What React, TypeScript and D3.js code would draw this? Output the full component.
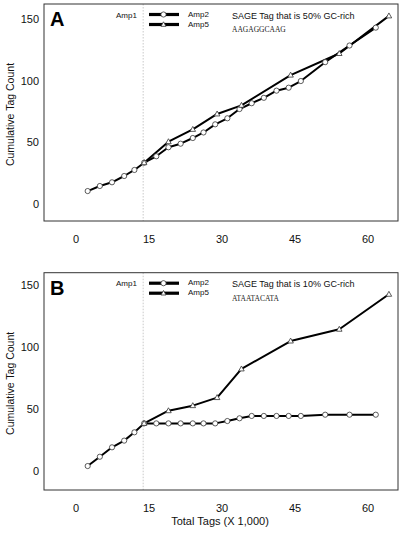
import React from "react";
import * as d3 from "d3";

const xTicks = [0, 15, 30, 45, 60];
const yTicks = [0, 50, 100, 150];
const amp1Boundary = 13.8;

const amp2X = [2.4, 4.9, 7.4, 9.9, 12.0, 14.0, 16.5, 19.0, 21.5, 24.0, 26.2, 28.6, 31.1, 33.6, 36.1, 38.6, 41.2, 43.7, 46.2, 51.2, 56.2, 61.6];
const amp2A = [10.5, 14.6, 17.6, 22.7, 27.6, 33.5, 38.7, 46, 48.9, 53.5, 58, 64.6, 69.5, 77, 81.7, 86.1, 91.9, 94.3, 99.7, 115, 128.5, 143];
const amp2B = [4, 11.5, 19.1, 24.5, 31.2, 38.4, 38.4, 38.4, 38.4, 38.4, 38.4, 38.4, 40.3, 42.5, 44.4, 44.4, 44.4, 44.4, 44.4, 45.4, 45.4, 45.4];

const amp5X = [14.0, 19.0, 24.0, 29.0, 34.0, 44.1, 54.1, 64.3];
const amp5A = [33.5, 50.5, 60.5, 73, 80, 104.5, 122, 152.5];
const amp5B = [38.4, 48.6, 52.7, 59.2, 82.3, 104.8, 114.3, 142.5];

const panels = [
  { letter: "A", title: "SAGE Tag that is 50% GC-rich", seq: "AAGAGGCAAG", amp2: amp2A, amp5: amp5A },
  { letter: "B", title: "SAGE Tag that is 10% GC-rich", seq: "ATAATACATA", amp2: amp2B, amp5: amp5B },
];

const FONT = "'Liberation Sans', Arial, Helvetica, sans-serif";

function triPath(cx: number, cy: number, s: number) {
  const h = s * 0.9;
  return `M${cx},${cy - h * 0.6}L${cx + s / 2},${cy + h * 0.4}L${cx - s / 2},${cy + h * 0.4}Z`;
}

function Panel({ p, geom }: { p: any; geom: any }) {
  const x = d3.scaleLinear().domain([0, 60]).range([76, 368]);
  const y = d3.scaleLinear().domain([0, 150]).range([geom.y0, geom.y150]);
  const line = d3.line<[number, number]>().x((d) => x(d[0])).y((d) => y(d[1]));
  const a2: [number, number][] = amp2X.map((v, i) => [v, p.amp2[i]]);
  const a5: [number, number][] = amp5X.map((v, i) => [v, p.amp5[i]]);
  const { top, bottom } = geom;
  const left = 44, right = 398;
  return (
    <g>
      <line x1={x(amp1Boundary)} x2={x(amp1Boundary)} y1={top} y2={bottom} stroke="#bbb" strokeWidth={0.8} strokeDasharray="1.5,1.5" />
      <rect x={left} y={top} width={right - left} height={bottom - top} fill="none" stroke="#333" strokeWidth={1} />
      {yTicks.map((t) => (
        <text key={t} x={39} y={y(t)} textAnchor="end" dominantBaseline="central" fontSize={11} fontFamily={FONT} fill="#111">{t}</text>
      ))}
      {xTicks.map((t) => (
        <text key={t} x={x(t)} y={bottom + 18} textAnchor="middle" dominantBaseline="central" fontSize={11} fontFamily={FONT} fill="#111">{t}</text>
      ))}
      <text transform={`translate(9.5,${(top + bottom) / 2 + 2}) rotate(-90)`} textAnchor="middle" dominantBaseline="central" fontSize={10.5} fontFamily={FONT} fill="#111">Cumulative Tag Count</text>
      <text x={50} y={top + 22} fontSize={20} fontWeight="bold" fontFamily={FONT} fill="#000">{p.letter}</text>
      <path d={line(a5) || ""} fill="none" stroke="#000" strokeWidth={2} strokeLinejoin="round" />
      <path d={line(a2) || ""} fill="none" stroke="#000" strokeWidth={2} strokeLinejoin="round" />
      {a2.map((d, i) => (
        <circle key={"c" + i} cx={x(d[0])} cy={y(d[1])} r={2.6} fill="#fff" stroke="#333" strokeWidth={0.8} />
      ))}
      {a5.map((d, i) => (
        <path key={"t" + i} d={triPath(x(d[0]), y(d[1]), 5.5)} fill="#fff" stroke="#333" strokeWidth={0.8} />
      ))}
      <text x={116} y={top + 11} dominantBaseline="central" fontSize={8} fontFamily={FONT} fill="#111">Amp1</text>
      <line x1={149} x2={179} y1={top + 10.5} y2={top + 10.5} stroke="#000" strokeWidth={3.2} />
      <circle cx={163.5} cy={top + 10.5} r={2.6} fill="#fff" stroke="#333" strokeWidth={0.8} />
      <text x={188} y={top + 10} dominantBaseline="central" fontSize={8} fontFamily={FONT} fill="#111">Amp2</text>
      <line x1={149} x2={179} y1={top + 20.5} y2={top + 20.5} stroke="#000" strokeWidth={3.2} />
      <path d={triPath(163.5, top + 20.5, 5)} fill="#fff" stroke="#333" strokeWidth={0.8} />
      <text x={188} y={top + 20} dominantBaseline="central" fontSize={8} fontFamily={FONT} fill="#111">Amp5</text>
      <text x={232} y={top + 11.5} dominantBaseline="central" fontSize={9} fontFamily={FONT} fill="#111">{p.title}</text>
      <text x={232} y={top + 25.5} dominantBaseline="central" fontSize={7.5} fontFamily="'Liberation Serif', 'Times New Roman', serif" fill="#222">{p.seq}</text>
    </g>
  );
}

export default function App() {
  const geoms = [
    { top: 4, bottom: 221, y0: 204, y150: 19 },
    { top: 272.7, bottom: 490, y0: 471, y150: 285 },
  ];
  return (
    <svg width={404} height={533} style={{ position: "absolute", left: 0, top: 0, background: "#fff" }}>
      <rect width={404} height={533} fill="#fff" />
      {panels.map((p, i) => (
        <Panel key={p.letter} p={p} geom={geoms[i]} />
      ))}
      <text x={220} y={521} textAnchor="middle" dominantBaseline="central" fontSize={11} fontFamily={FONT} fill="#111">Total Tags (X 1,000)</text>
    </svg>
  );
}
